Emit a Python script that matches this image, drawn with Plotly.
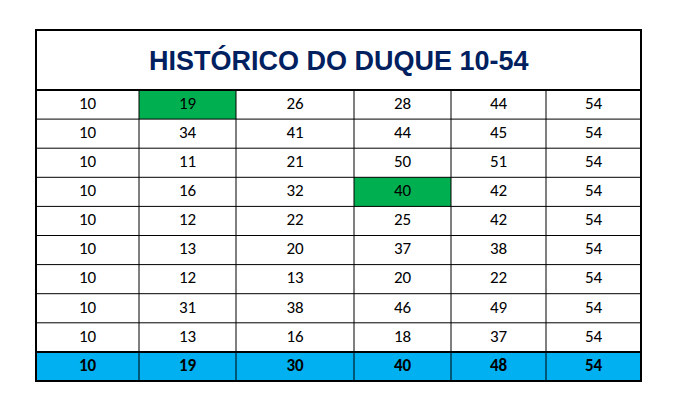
import plotly.graph_objects as go

title = "HISTÓRICO DO DUQUE 10-54"
rows = [
    [10, 19, 26, 28, 44, 54],
    [10, 34, 41, 44, 45, 54],
    [10, 11, 21, 50, 51, 54],
    [10, 16, 32, 40, 42, 54],
    [10, 12, 22, 25, 42, 54],
    [10, 13, 20, 37, 38, 54],
    [10, 12, 13, 20, 22, 54],
    [10, 31, 38, 46, 49, 54],
    [10, 13, 16, 18, 37, 54],
]
summary = [10, 19, 30, 40, 48, 54]
green_cells = [(0, 1), (3, 3)]

col_edges = [36, 139, 236, 354, 451, 546, 641]
top, title_bottom, bottom = 30, 90, 381
nrows = len(rows) + 1
rh = (bottom - title_bottom) / nrows
row_edges = [title_bottom + i * rh for i in range(nrows + 1)]

shapes = []
for (r, c) in green_cells:
    shapes.append(dict(type="rect", x0=col_edges[c], x1=col_edges[c+1], y0=row_edges[r], y1=row_edges[r+1],
                       fillcolor="#00B050", line_width=0, layer="below"))
shapes.append(dict(type="rect", x0=col_edges[0], x1=col_edges[-1], y0=row_edges[-2], y1=row_edges[-1],
                   fillcolor="#00B0F0", line_width=0, layer="below"))
for y in row_edges[1:-1]:
    shapes.append(dict(type="line", x0=col_edges[0], x1=col_edges[-1], y0=y, y1=y, line=dict(color="black", width=1)))
for x in col_edges[1:-1]:
    shapes.append(dict(type="line", x0=x, x1=x, y0=title_bottom, y1=bottom, line=dict(color="black", width=1)))
shapes.append(dict(type="line", x0=col_edges[0], x1=col_edges[-1], y0=title_bottom, y1=title_bottom, line=dict(color="black", width=2)))
shapes.append(dict(type="line", x0=col_edges[0], x1=col_edges[-1], y0=row_edges[-2], y1=row_edges[-2], line=dict(color="black", width=2)))
shapes.append(dict(type="rect", x0=col_edges[0], x1=col_edges[-1], y0=top, y1=bottom, line=dict(color="black", width=2)))

xs, ys, ts = [], [], []
for r, row in enumerate(rows):
    for c, v in enumerate(row):
        xs.append((col_edges[c] + col_edges[c+1]) / 2)
        ys.append((row_edges[r] + row_edges[r+1]) / 2)
        ts.append(str(v))
sx = [(col_edges[c] + col_edges[c+1]) / 2 for c in range(6)]
sy = [(row_edges[-2] + row_edges[-1]) / 2] * 6

fig = go.Figure()
fig.add_trace(go.Scatter(x=xs, y=ys, text=ts, mode="text",
                         textfont=dict(family="Carlito, Liberation Sans, Arial", size=17, color="black"), hoverinfo="skip"))
fig.add_trace(go.Scatter(x=sx, y=sy, text=["<b>%d</b>" % v for v in summary], mode="text",
                         textfont=dict(family="Carlito, Liberation Sans, Arial", size=17, color="black"), hoverinfo="skip"))
fig.add_annotation(x=(col_edges[0] + col_edges[-1]) / 2, y=(top + title_bottom) / 2, text="<b>" + title + "</b>",
                   showarrow=False, font=dict(family="Liberation Sans, Arial", size=27, color="#002060"))
fig.update_layout(width=685, height=411, margin=dict(l=0, r=0, t=0, b=0), showlegend=False,
                  paper_bgcolor="white", plot_bgcolor="white", shapes=shapes,
                  xaxis=dict(range=[8, 693], visible=False, fixedrange=True),
                  yaxis=dict(range=[419, 8], visible=False, fixedrange=True))
fig.write_html("out.html")
